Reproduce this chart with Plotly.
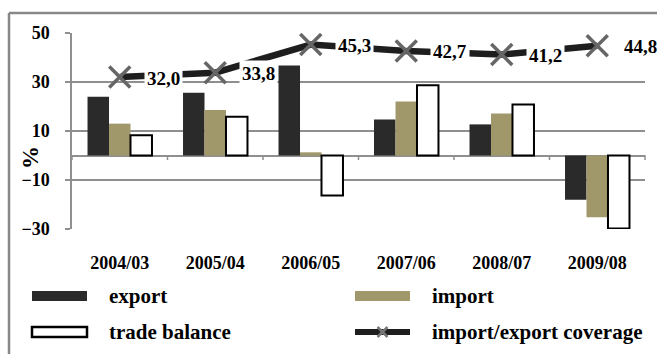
import plotly.graph_objects as go

# ---------------- data ----------------
categories = ["2004/03", "2005/04", "2006/05", "2007/06", "2008/07", "2009/08"]
export_vals = [24.0, 25.6, 36.7, 14.7, 12.7, -18.1]
import_vals = [13.0, 18.6, 1.3, 22.0, 17.1, -25.2]
balance_vals = [8.3, 15.8, -16.3, 28.7, 20.8, -29.8]
coverage_vals = [32.0, 33.8, 45.3, 42.7, 41.2, 44.8]
series_names = ["export", "import", "trade balance", "import/export coverage"]
y_ticks = [-30, -10, 10, 30, 50]

# ---------------- styling ----------------
W, H = 657, 354
L, R, T, B = 72, 645, 33, 229          # plot area in px
PW, PH = R - L, B - T
FONT = "Liberation Serif"
GRID = "#8f8f8f"
FRAME = "#888888"
C_EXP = "#2a2a2a"
C_IMP = "#a0986a"


def xp(px):
    return (px - L) / PW


def yp(py):
    return (B - py) / PH


fig = go.Figure()
fig.add_trace(go.Bar(x=categories, y=export_vals, name=series_names[0],
                     marker=dict(color=C_EXP, line=dict(width=0))))
fig.add_trace(go.Bar(x=categories, y=import_vals, name=series_names[1],
                     marker=dict(color=C_IMP, line=dict(width=0))))
fig.add_trace(go.Bar(x=categories, y=balance_vals, name=series_names[2],
                     marker=dict(color="white", line=dict(color="black", width=2))))
fig.add_trace(go.Scatter(x=categories, y=coverage_vals, name=series_names[3],
                         mode="lines+markers",
                         line=dict(color="#1e1e1e", width=6.5),
                         marker=dict(symbol="x-thin", size=21, color="#666666",
                                     line=dict(color="#666666", width=3.5))))

# outer frame (top and left edges visible)
fig.add_shape(type="line", xref="paper", yref="paper", layer="above",
              x0=xp(9), x1=xp(W + 5), y0=yp(13), y1=yp(13),
              line=dict(color=FRAME, width=2.5))
fig.add_shape(type="line", xref="paper", yref="paper", layer="above",
              x0=xp(9), x1=xp(9), y0=yp(13), y1=yp(H + 5),
              line=dict(color=FRAME, width=2.5))

# ticks on the zero line at category boundaries
for k in range(len(categories) + 1):
    fig.add_shape(type="line", xref="paper", yref="paper",
                  x0=k / len(categories), x1=k / len(categories), y0=yp(155), y1=yp(160),
                  line=dict(color=GRID, width=1.5))

# data labels for coverage line
for c, v in zip(categories, coverage_vals):
    fig.add_annotation(x=c, y=v, text=f"{v:.1f}".replace(".", ","),
                       xanchor="left", xshift=24, yshift=-1, showarrow=False,
                       bgcolor="white", borderpad=2,
                       font=dict(family=FONT, size=19, color="black", weight="bold"))

# y-axis title
fig.add_annotation(xref="paper", yref="paper", x=xp(30), y=yp(158), text="%",
                   xanchor="center", yanchor="middle",
                   textangle=-90, showarrow=False,
                   font=dict(family=FONT, size=23, color="black", weight="bold"))

# manual legend
leg_rows = [296, 332]
leg_sym_x = [32, 355]
leg_txt_x = [107, 430]
lfont = dict(family=FONT, size=21, color="black", weight="bold")
for i, name in enumerate(series_names):
    row, col = divmod(i, 2)
    cy = leg_rows[row]
    sx0, sx1 = leg_sym_x[col], leg_sym_x[col] + 55
    if i == 0:
        fig.add_shape(type="rect", xref="paper", yref="paper", x0=xp(sx0), x1=xp(sx1),
                      y0=yp(cy + 5), y1=yp(cy - 5), fillcolor=C_EXP, line=dict(width=0))
    elif i == 1:
        fig.add_shape(type="rect", xref="paper", yref="paper", x0=xp(sx0), x1=xp(sx1),
                      y0=yp(cy + 5), y1=yp(cy - 5), fillcolor=C_IMP, line=dict(width=0))
    elif i == 2:
        fig.add_shape(type="rect", xref="paper", yref="paper", x0=xp(sx0), x1=xp(sx1),
                      y0=yp(cy + 5), y1=yp(cy - 5), fillcolor="white",
                      line=dict(color="black", width=2.5))
    else:
        fig.add_shape(type="line", xref="paper", yref="paper", x0=xp(sx0), x1=xp(sx1),
                      y0=yp(cy), y1=yp(cy), line=dict(color="#1e1e1e", width=6))
        mx = (sx0 + sx1) / 2
        for dy in (-5, 5):
            fig.add_shape(type="line", xref="paper", yref="paper", x0=xp(mx - 5), x1=xp(mx + 5),
                          y0=yp(cy - dy), y1=yp(cy + dy), line=dict(color="#777777", width=2.5))
    fig.add_annotation(xref="paper", yref="paper", x=xp(leg_txt_x[col]), y=yp(cy),
                       xanchor="left", yanchor="middle", text=name, showarrow=False, font=lfont)

fig.update_layout(
    width=W, height=H,
    margin=dict(l=L, r=W - R, t=T, b=H - B, pad=0),
    paper_bgcolor="white", plot_bgcolor="white",
    barmode="group", bargap=0.325, bargroupgap=0,
    showlegend=False,
    font=dict(family=FONT, color="black"),
    xaxis=dict(type="category", range=[-0.5, 5.5], showgrid=False, zeroline=False,
               showline=False, ticks="", ticklabelstandoff=21,
               tickfont=dict(family=FONT, size=18, color="black", weight="bold")),
    yaxis=dict(range=[-30, 50], tickvals=y_ticks, showgrid=True, gridcolor=GRID,
               gridwidth=1.5, zeroline=True, zerolinecolor=GRID, zerolinewidth=1.5,
               showline=True, linecolor=GRID, linewidth=1.5,
               ticks="outside", ticklen=5, tickwidth=1.5, tickcolor=GRID,
               ticklabelstandoff=12,
               tickfont=dict(family=FONT, size=18, color="black", weight="bold")),
)

fig.write_html("out.html")
